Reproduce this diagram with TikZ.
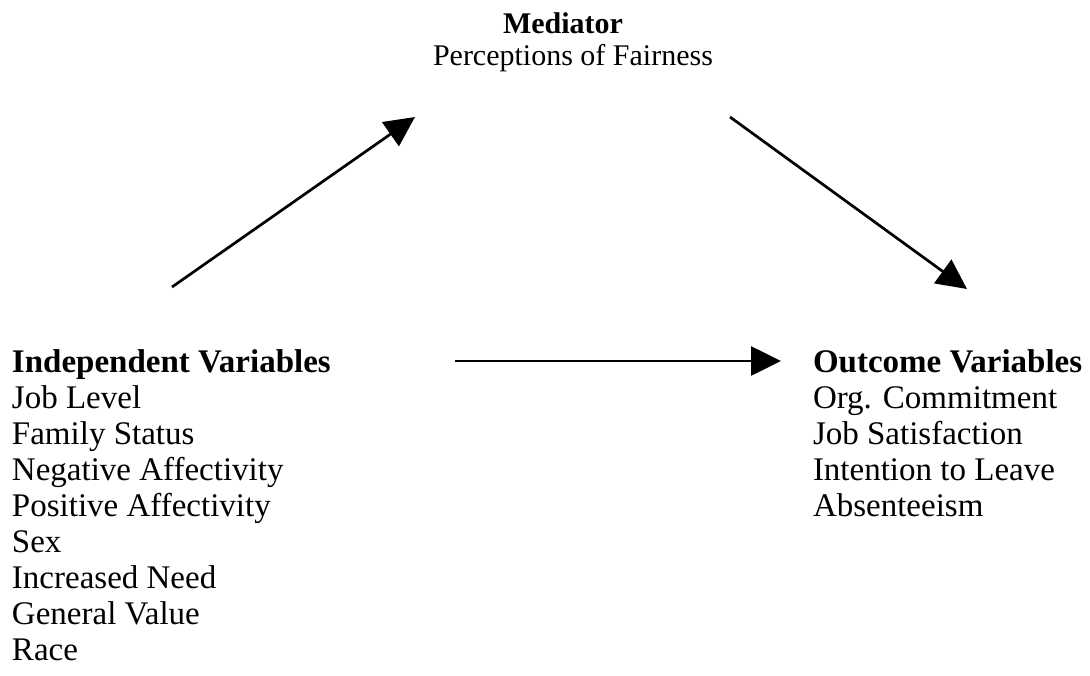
\documentclass[tikz,border=0pt]{standalone}
\usepackage{fontspec}
\setmainfont{Liberation Serif}
\usetikzlibrary{arrows.meta}
\begin{document}
\begin{tikzpicture}[x=1pt,y=-1pt,
  lbl/.style={anchor=base west, inner sep=0pt, outer sep=0pt, font=\fontsize{33}{36}\selectfont},
  hd/.style={anchor=base west, inner sep=0pt, outer sep=0pt, font=\fontsize{33}{36}\selectfont\bfseries},
  medhd/.style={anchor=base west, inner sep=0pt, outer sep=0pt, font=\fontsize{30}{36}\selectfont\bfseries},
  medtx/.style={anchor=base west, inner sep=0pt, outer sep=0pt, font=\fontsize{30}{36}\selectfont},
  arr/.style={line width=2.7pt, -{Triangle[length=30pt,width=29pt]}}]
\useasboundingbox (0,0) rectangle (1090,675);
% Mediator
\node[medhd] (med) at (503,33) {Mediator};
\node[medtx] (fair) at (433,65) {Perceptions of Fairness};
% Independent variables
\node[hd] (iv0) at (12,372) {Independent Variables};
\foreach \t [count=\i] in {Job Level, Family Status, Negative Affectivity, Positive Affectivity, Sex, Increased Need, General Value, Race}
  \node[lbl] (iv\i) at (12,372+36*\i) {\t};
% Outcome variables
\node[hd] (ov0) at (813,372) {Outcome Variables};
\foreach \t [count=\i] in {Org. Commitment, Job Satisfaction, Intention to Leave, Absenteeism}
  \node[lbl] (ov\i) at (813,372+36*\i) {\t};
% Arrow end points
\coordinate (a1s) at (172,287);
\coordinate (a1e) at (415,117);
\coordinate (a2s) at (730,117);
\coordinate (a2e) at (967,289);
\coordinate (a3s) at (455,361);
\coordinate (a3e) at (781,361);
\draw[arr] (a1s) -- (a1e);
\draw[arr] (a2s) -- (a2e);
\draw[arr] (a3s) -- (a3e);
\end{tikzpicture}
\end{document}
